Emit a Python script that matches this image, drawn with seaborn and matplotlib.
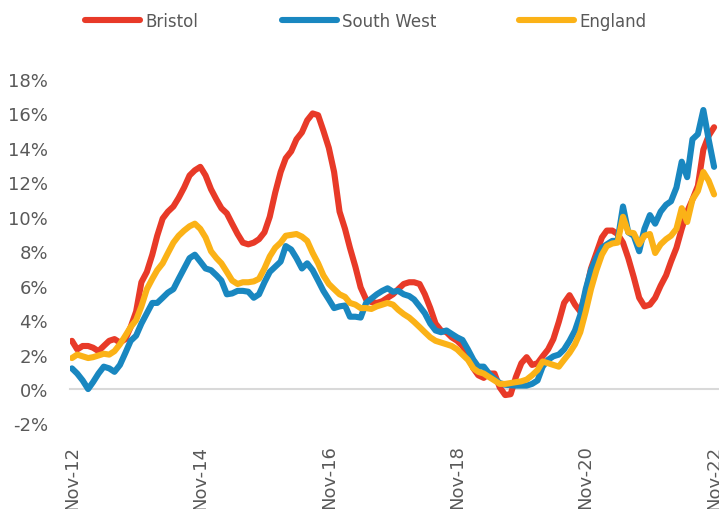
import numpy as np
import pandas as pd
import matplotlib
matplotlib.use("Agg")
import matplotlib.pyplot as plt
import matplotlib.dates as mdates
from matplotlib.ticker import FuncFormatter
import seaborn as sns

# monthly annual house price change (%), Nov-12 .. Nov-22
months = pd.date_range("2012-11-01", "2022-11-01", freq="MS")

bristol = [
    2.8, 2.3, 2.5, 2.5, 2.4, 2.2, 2.5, 2.8, 2.9, 2.7, 2.9, 3.6,
    4.5, 6.2, 6.8, 7.8, 8.9, 9.9, 10.3, 10.6, 11.1, 11.7, 12.4, 12.7,
    12.9, 12.4, 11.6, 11.0, 10.5, 10.2, 9.6, 9.0, 8.5, 8.4, 8.5, 8.7,
    9.1, 10.0, 11.4, 12.6, 13.4, 13.8, 14.5, 14.9, 15.6, 16.0, 15.9, 15.0,
    14.0, 12.6, 10.3, 9.3, 8.2, 7.1, 5.9, 5.2, 5.05, 5.0, 5.1, 5.3,
    5.5, 5.8, 6.1, 6.2, 6.2, 6.1, 5.5, 4.7, 3.8, 3.4, 3.3, 3.0,
    2.8, 2.5, 1.9, 1.2, 0.8, 0.65, 0.9, 0.9, 0.1, -0.35, -0.3, 0.7,
    1.5, 1.85, 1.4, 1.5, 1.9, 2.3, 2.9, 3.9, 5.0, 5.45, 4.9, 4.5,
    5.6, 7.0, 7.9, 8.8, 9.2, 9.2, 9.0, 8.5, 7.6, 6.5, 5.3, 4.8,
    4.9, 5.3, 6.0, 6.6, 7.4, 8.2, 9.3, 10.3, 11.0, 11.8, 13.9, 14.7,
    15.2,
]

south_west = [
    1.2, 0.9, 0.5, 0.0, 0.4, 0.9, 1.3, 1.2, 1.0, 1.4, 2.1, 2.8,
    3.1, 3.8, 4.4, 5.0, 5.0, 5.3, 5.6, 5.8, 6.4, 7.0, 7.6, 7.8,
    7.4, 7.0, 6.9, 6.6, 6.3, 5.5, 5.55, 5.7, 5.7, 5.65, 5.3, 5.5,
    6.2, 6.8, 7.1, 7.4, 8.3, 8.1, 7.6, 7.0, 7.3, 6.9, 6.3, 5.7,
    5.2, 4.7, 4.8, 4.85, 4.2, 4.2, 4.15, 5.0, 5.25, 5.5, 5.7, 5.85,
    5.65, 5.7, 5.5, 5.4, 5.2, 4.8, 4.4, 3.8, 3.4, 3.3, 3.4, 3.2,
    3.0, 2.85, 2.3, 1.7, 1.3, 1.3, 0.9, 0.6, 0.35, 0.25, 0.22, 0.2,
    0.2, 0.2, 0.3, 0.5, 1.3, 1.7, 1.9, 2.0, 2.3, 2.8, 3.4, 4.3,
    5.8, 6.9, 7.6, 8.2, 8.4, 8.6, 8.6, 10.6, 9.1, 8.9, 8.0, 9.3,
    10.1, 9.6, 10.3, 10.7, 10.9, 11.7, 13.2, 12.3, 14.5, 14.8, 16.2, 14.5,
    12.9,
]

england = [
    1.8, 2.0, 1.9, 1.8, 1.85, 1.95, 2.05, 2.0, 2.2, 2.6, 3.1, 3.6,
    4.0, 4.8, 5.8, 6.4, 6.9, 7.3, 7.9, 8.5, 8.9, 9.2, 9.45, 9.6,
    9.3, 8.8, 8.0, 7.6, 7.3, 6.8, 6.3, 6.1, 6.2, 6.2, 6.25, 6.4,
    7.0, 7.7, 8.2, 8.5, 8.9, 8.95, 9.0, 8.85, 8.6, 7.9, 7.3, 6.6,
    6.1, 5.8, 5.5, 5.35, 5.0, 4.9, 4.7, 4.7, 4.65, 4.8, 4.9, 5.0,
    4.9, 4.6, 4.35, 4.15, 3.9, 3.6, 3.3, 3.0, 2.8, 2.7, 2.6, 2.5,
    2.3, 2.0, 1.7, 1.2, 1.0, 0.9, 0.7, 0.5, 0.3, 0.3, 0.35, 0.4,
    0.45, 0.55, 0.8, 1.1, 1.6, 1.5, 1.4, 1.3, 1.7, 2.1, 2.6, 3.3,
    4.5, 5.8, 6.9, 7.8, 8.3, 8.45, 8.5, 10.0, 9.1, 9.05, 8.4, 8.9,
    9.0, 7.9, 8.4, 8.7, 8.9, 9.3, 10.5, 9.7, 11.0, 11.5, 12.6, 12.1,
    11.3,
]

series_names = ["Bristol", "South West", "England"]
series_colors = ["#E83A28", "#1987C0", "#FBB217"]
y_ticks = list(range(-2, 19, 2))
x_tick_dates = pd.date_range("2012-11-01", "2022-11-01", freq="24MS")

df = pd.DataFrame({"month": months, "Bristol": bristol,
                   "South West": south_west, "England": england})
df_long = df.melt(id_vars="month", var_name="area", value_name="change")

sns.set_style("white")
plt.rcParams["font.family"] = ["DejaVu Sans"]
text_col = "#595959"

fig = plt.figure(figsize=(7.19, 5.10), dpi=100)
ax = fig.add_axes([70 / 719, 85.5 / 510, 649 / 719, 344.5 / 510])

sns.lineplot(data=df_long, x="month", y="change", hue="area",
             hue_order=series_names, palette=series_colors,
             linewidth=4.4, solid_joinstyle="round", solid_capstyle="round",
             ax=ax, legend=True)

ax.set_ylim(-2, 18)
ax.set_xlim(months[0] - pd.Timedelta(days=11), months[-1] + pd.Timedelta(days=28))
ax.set_yticks(y_ticks)
ax.yaxis.set_major_formatter(FuncFormatter(lambda v, p: f"{v:.0f}%"))
ax.set_xticks(x_tick_dates)
ax.xaxis.set_major_formatter(mdates.DateFormatter("%b-%y"))
ax.set_xlabel("")
ax.set_ylabel("")

for s in ["top", "right", "left"]:
    ax.spines[s].set_visible(False)
ax.spines["bottom"].set_position(("data", 0))
ax.spines["bottom"].set_color("#D9D9D9")
ax.spines["bottom"].set_linewidth(1.5)
ax.spines["bottom"].set_zorder(0)

ax.tick_params(axis="y", length=0, pad=16, labelsize=13, labelcolor=text_col)
ax.tick_params(axis="x", direction="out", length=6, width=1.5, color="#D9D9D9",
               pad=34, labelsize=13, labelcolor=text_col, labelrotation=90)
for lab in ax.get_xticklabels():
    lab.set_va("top")
    lab.set_ha("center")

handles, labels = ax.get_legend_handles_labels()
ax.get_legend().remove()
leg = fig.legend(handles, labels, loc="center", bbox_to_anchor=(366 / 719, 1 - 22 / 510),
                 ncol=3, frameon=False, fontsize=12, handlelength=3.3,
                 handletextpad=0.3, columnspacing=5.0)
for t in leg.get_texts():
    t.set_color(text_col)
for h in leg.get_lines():
    h.set_linewidth(4.4)
    h.set_solid_capstyle("round")

fig.savefig("out.png", dpi=100)
